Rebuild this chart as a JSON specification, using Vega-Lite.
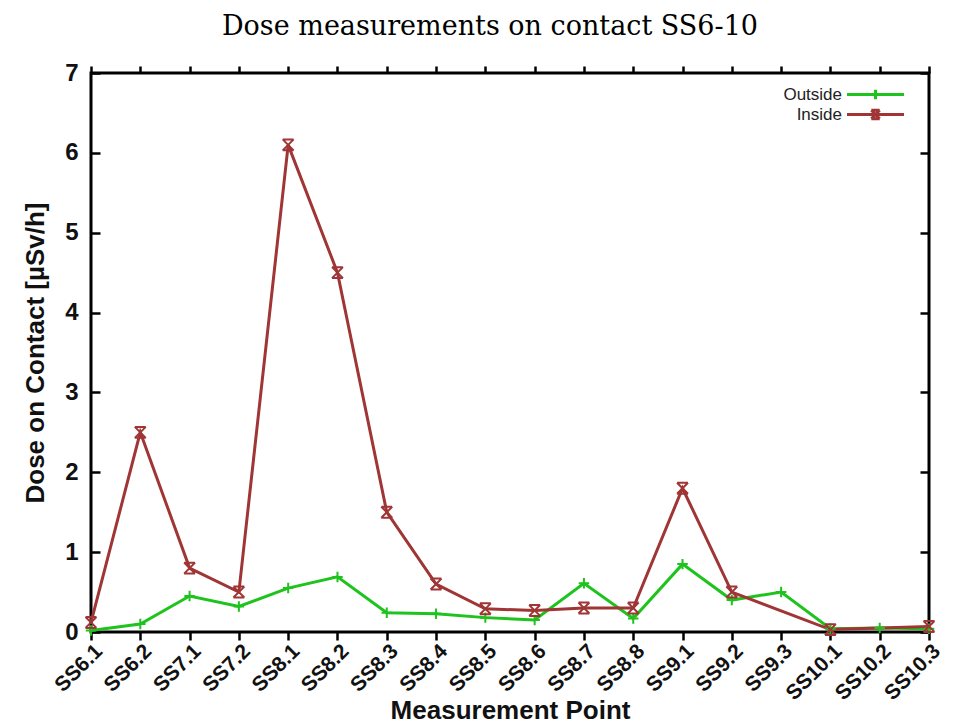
{
  "$schema": "https://vega.github.io/schema/vega-lite/v6.json",
  "autosize": "none",
  "width": 838,
  "height": 559,
  "padding": {"left": 91, "top": 73, "right": 38, "bottom": 96},
  "background": "white",
  "title": {
    "text": "Dose measurements on contact SS6-10",
    "font": "DejaVu Serif",
    "fontSize": 27,
    "fontWeight": "normal",
    "color": "#000",
    "anchor": "middle",
    "dx": -20,
    "offset": 20
  },
  "config": {
    "view": {"stroke": "#000", "strokeWidth": 3},
    "axis": {
      "labelFont": "Liberation Sans",
      "labelFontWeight": "bold",
      "labelColor": "#111",
      "titleFont": "Liberation Sans",
      "titleFontWeight": "bold",
      "titleColor": "#111",
      "tickColor": "#000",
      "tickWidth": 2.5,
      "domain": false,
      "grid": false
    }
  },
  "data": {
    "values": [
      {"point": "SS6.1", "series": "Outside", "dose": 0.02},
      {"point": "SS6.2", "series": "Outside", "dose": 0.1},
      {"point": "SS7.1", "series": "Outside", "dose": 0.45},
      {"point": "SS7.2", "series": "Outside", "dose": 0.32},
      {"point": "SS8.1", "series": "Outside", "dose": 0.55},
      {"point": "SS8.2", "series": "Outside", "dose": 0.69},
      {"point": "SS8.3", "series": "Outside", "dose": 0.24},
      {"point": "SS8.4", "series": "Outside", "dose": 0.23},
      {"point": "SS8.5", "series": "Outside", "dose": 0.18},
      {"point": "SS8.6", "series": "Outside", "dose": 0.15},
      {"point": "SS8.7", "series": "Outside", "dose": 0.61},
      {"point": "SS8.8", "series": "Outside", "dose": 0.17},
      {"point": "SS9.1", "series": "Outside", "dose": 0.85},
      {"point": "SS9.2", "series": "Outside", "dose": 0.4},
      {"point": "SS9.3", "series": "Outside", "dose": 0.5},
      {"point": "SS10.1", "series": "Outside", "dose": 0.04},
      {"point": "SS10.2", "series": "Outside", "dose": 0.05},
      {"point": "SS10.3", "series": "Outside", "dose": 0.04},
      {"point": "SS6.1", "series": "Inside", "dose": 0.12},
      {"point": "SS6.2", "series": "Inside", "dose": 2.5},
      {"point": "SS7.1", "series": "Inside", "dose": 0.8},
      {"point": "SS7.2", "series": "Inside", "dose": 0.5},
      {"point": "SS8.1", "series": "Inside", "dose": 6.1},
      {"point": "SS8.2", "series": "Inside", "dose": 4.5},
      {"point": "SS8.3", "series": "Inside", "dose": 1.5},
      {"point": "SS8.4", "series": "Inside", "dose": 0.6},
      {"point": "SS8.5", "series": "Inside", "dose": 0.29},
      {"point": "SS8.6", "series": "Inside", "dose": 0.27},
      {"point": "SS8.7", "series": "Inside", "dose": 0.3},
      {"point": "SS8.8", "series": "Inside", "dose": 0.3},
      {"point": "SS9.1", "series": "Inside", "dose": 1.8},
      {"point": "SS9.2", "series": "Inside", "dose": 0.5},
      {"point": "SS10.1", "series": "Inside", "dose": 0.03},
      {"point": "SS10.3", "series": "Inside", "dose": 0.07}
    ]
  },
  "layer": [
    {
      "mark": {"type": "line", "strokeWidth": 3},
      "encoding": {
        "x": {
          "field": "point",
          "type": "ordinal",
          "sort": ["SS6.1", "SS6.2", "SS7.1", "SS7.2", "SS8.1", "SS8.2", "SS8.3", "SS8.4", "SS8.5", "SS8.6", "SS8.7", "SS8.8", "SS9.1", "SS9.2", "SS9.3", "SS10.1", "SS10.2", "SS10.3"],
          "scale": {"type": "point", "padding": 0},
          "axis": {
            "orient": "bottom",
            "title": "Measurement Point",
            "titleFontSize": 26,
            "titlePadding": -6,
            "labelFontSize": 21,
            "labelAngle": -45,
            "labelAlign": "right",
            "labelBaseline": "top",
            "labelPadding": 0,
            "tickSize": 8
          }
        },
        "y": {
          "field": "dose",
          "type": "quantitative",
          "scale": {"domain": [0, 7], "nice": false, "zero": true},
          "axis": {
            "orient": "left",
            "title": "Dose on Contact [µSv/h]",
            "titleFontSize": 26,
            "titlePadding": 16,
            "values": [0, 1, 2, 3, 4, 5, 6, 7],
            "labelFontSize": 24,
            "labelPadding": 22,
            "tickSize": -9
          }
        },
        "color": {
          "field": "series",
          "type": "nominal",
          "scale": {"domain": ["Outside", "Inside"], "range": ["#1ec31e", "#a03535"]},
          "legend": {
            "title": null,
            "orient": "none",
            "legendX": 776,
            "legendY": 13,
            "labelFont": "Liberation Sans",
            "labelFontSize": 17,
            "labelColor": "#222",
            "labelAlign": "right",
            "labelOffset": -42,
            "rowPadding": -7,
            "symbolSize": 144,
            "symbolStrokeWidth": 3,
            "symbolType": "M-4.75,0L4.75,0",
            "encode": {
              "symbols": {
                "update": {
                  "shape": {"signal": "datum.value === 'Outside' ? 'M-4.75,0L4.75,0M0,-0.8L0,0.8' : 'M-4.75,0L4.75,0M-0.7,-0.7L0.7,0.7M-0.7,0.7L0.7,-0.7M-0.7,-0.7L0.7,-0.7M-0.7,0.7L0.7,0.7'"}
                }
              }
            }
          }
        }
      }
    },
    {
      "transform": [{"filter": "datum.series === 'Outside'"}],
      "mark": {"type": "point", "filled": false, "strokeWidth": 2, "size": 110, "opacity": 1, "shape": "M-1,0L1,0M0,-1L0,1"},
      "encoding": {
        "x": {
          "field": "point",
          "type": "ordinal",
          "sort": ["SS6.1", "SS6.2", "SS7.1", "SS7.2", "SS8.1", "SS8.2", "SS8.3", "SS8.4", "SS8.5", "SS8.6", "SS8.7", "SS8.8", "SS9.1", "SS9.2", "SS9.3", "SS10.1", "SS10.2", "SS10.3"],
          "scale": {"type": "point", "padding": 0},
          "axis": {"orient": "top", "title": null, "labels": false, "tickSize": 7}
        },
        "y": {
          "field": "dose",
          "type": "quantitative",
          "scale": {"domain": [0, 7], "nice": false, "zero": true},
          "axis": {"orient": "right", "title": null, "labels": false, "values": [0, 1, 2, 3, 4, 5, 6, 7], "tickSize": -9}
        },
        "color": {"field": "series", "type": "nominal", "legend": null}
      }
    },
    {
      "transform": [{"filter": "datum.series === 'Inside'"}],
      "mark": {"type": "point", "filled": false, "strokeWidth": 2, "size": 120, "opacity": 1, "shape": "M-1,-1L1,1M-1,1L1,-1M-1,-1L1,-1M-1,1L1,1"},
      "encoding": {
        "x": {
          "field": "point",
          "type": "ordinal",
          "sort": ["SS6.1", "SS6.2", "SS7.1", "SS7.2", "SS8.1", "SS8.2", "SS8.3", "SS8.4", "SS8.5", "SS8.6", "SS8.7", "SS8.8", "SS9.1", "SS9.2", "SS9.3", "SS10.1", "SS10.2", "SS10.3"],
          "scale": {"type": "point", "padding": 0},
          "axis": null
        },
        "y": {
          "field": "dose",
          "type": "quantitative",
          "scale": {"domain": [0, 7], "nice": false, "zero": true},
          "axis": null
        },
        "color": {"field": "series", "type": "nominal", "legend": null}
      }
    }
  ],
  "resolve": {"axis": {"x": "independent", "y": "independent"}}
}
